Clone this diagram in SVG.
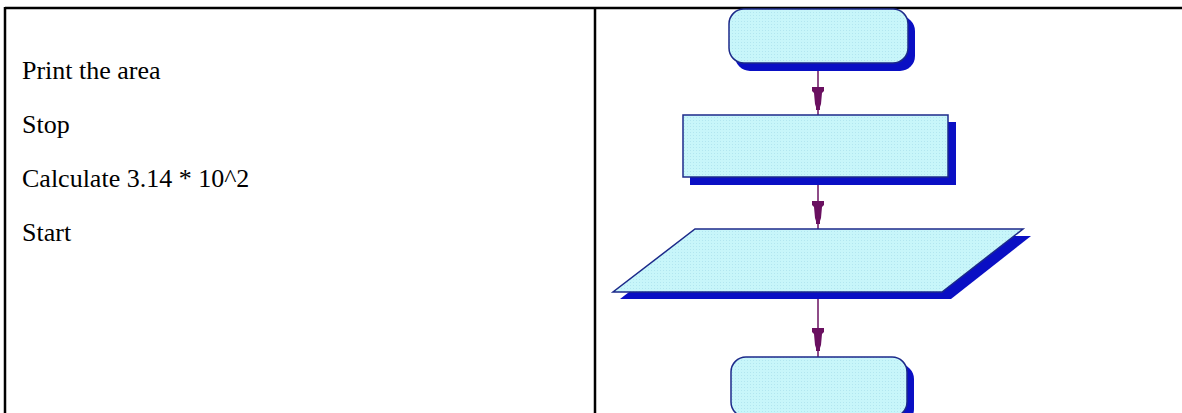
<svg xmlns="http://www.w3.org/2000/svg" width="1182" height="413" viewBox="0 0 1182 413">
<style>
.t{font-family:"Liberation Serif","Times New Roman",serif;font-size:26px;fill:#000}
.b{stroke:#000;stroke-width:2.5;fill:none}
.sh{fill:#0a0fc4}
.fl{fill:#c8f6fa;stroke:#1c2a8a;stroke-width:1.5}
.ln{stroke:#6a1060;stroke-width:1.5}
.ah{fill:#6a1060}
</style>
<defs>
<pattern id="dots" width="3" height="3" patternUnits="userSpaceOnUse">
<rect width="3" height="3" fill="#c8f6fa"/>
<rect width="1" height="1" fill="#b2e6f0"/>
</pattern>
<polygon id="head" points="-6,0 6,0 6,4 4,6 3,17 2,20 2,23 -2,23 -2,20 -3,17 -4,6 -6,4"/>
</defs>
<rect width="1182" height="413" fill="#fff"/>
<g id="table">
<line class="b" x1="5" y1="8" x2="1182" y2="8"/>
<line class="b" x1="5" y1="7" x2="5" y2="413"/>
<line class="b" x1="595" y1="7" x2="595" y2="413"/>
</g>
<g id="labels">
<text class="t" x="22" y="79">Print the area</text>
<text class="t" x="22" y="133">Stop</text>
<text class="t" x="22" y="187">Calculate 3.14 * 10^2</text>
<text class="t" x="22" y="241">Start</text>
</g>
<g id="connectors">
<line class="ln" x1="818" y1="70" x2="818" y2="115"/>
<use href="#head" x="818" y="87" class="ah"/>
<line class="ln" x1="818" y1="184" x2="818" y2="229"/>
<use href="#head" x="818" y="201" class="ah"/>
<line class="ln" x1="818" y1="299" x2="818" y2="357"/>
<use href="#head" x="818" y="328" class="ah"/>
</g>
<g id="start">
<rect class="sh" x="735" y="16" width="180" height="55" rx="15"/>
<rect class="fl" x="729" y="9" width="179" height="54" rx="15" style="fill:url(#dots)"/>
</g>
<g id="process">
<rect class="sh" x="690" y="122" width="266" height="63"/>
<rect class="fl" x="683" y="115" width="265" height="62" style="fill:url(#dots)"/>
</g>
<g id="io">
<polygon class="sh" points="702,236 1031,236 951,299 620,299"/>
<polygon class="fl" points="695,229 1023,229 942,292 613,292" style="fill:url(#dots)"/>
</g>
<g id="stop">
<rect class="sh" x="737" y="364" width="177" height="60" rx="15"/>
<rect class="fl" x="731" y="357" width="176" height="60" rx="15" style="fill:url(#dots)"/>
</g>
</svg>
